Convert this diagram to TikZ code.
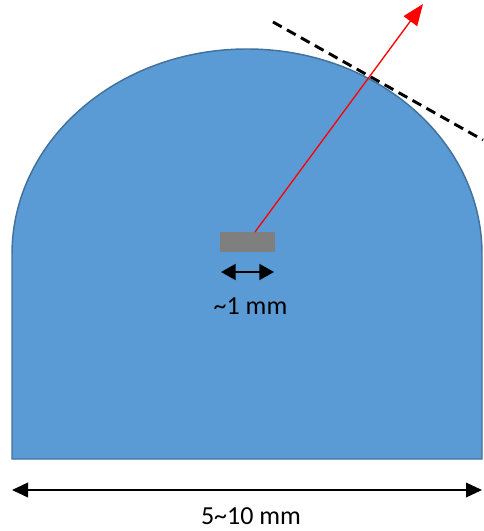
\documentclass[tikz,border=0pt]{standalone}
\usepackage{fontspec}
\setmainfont{Carlito}
\usetikzlibrary{arrows.meta}
\definecolor{domefill}{HTML}{5B9BD5}
\definecolor{domeline}{HTML}{41719C}
\definecolor{chip}{HTML}{7F7F7F}
\begin{document}
\begin{tikzpicture}[x=0.75pt,y=-0.75pt,
  dome/.style={fill=domefill,draw=domeline,line width=1.1pt},
  ray/.style={draw=red,line width=1pt,-{Triangle[length=16pt,width=12.5pt]}},
  tangent/.style={draw=black,line width=2.2pt,dash pattern=on 7.5pt off 4.5pt},
  dimsmall/.style={draw=black,line width=1.4pt,{Triangle[length=11pt,width=12pt]}-{Triangle[length=11pt,width=12pt]}},
  dimbig/.style={draw=black,line width=1.1pt,{Triangle[length=12pt,width=11pt]}-{Triangle[length=12pt,width=11pt]}},
  label/.style={font=\fontsize{19.5}{23}\selectfont,inner sep=0pt,anchor=base}]
\useasboundingbox (0,0) rectangle (483,531);
% dome body
\path[dome] (12,459) -- (12,254) arc[start angle=180,end angle=0,x radius=235,y radius=-205] -- (482,459) -- cycle;
% chip
\node[fill=chip,draw=none,minimum width=41.25pt,minimum height=15pt,inner sep=0pt] (chip) at (247.5,242) {};
% tangent line
\coordinate (t1) at (273,22);
\coordinate (t2) at (483,140);
\draw[tangent] (t1) -- (t2);
% ray
\coordinate (rayend) at (423,4);
\draw[ray] (255,232) -- (rayend);
% small dimension
\coordinate (s1) at (221,272);
\coordinate (s2) at (274,272);
\draw[dimsmall] (s1) -- (s2);
\node[label] (small) at (250.5,314) {\textasciitilde 1 mm};
% big dimension
\coordinate (b1) at (12,490);
\coordinate (b2) at (482,490);
\draw[dimbig] (b1) -- (b2);
\node[label] (big) at (251,524) {5\textasciitilde 10 mm};
\end{tikzpicture}
\end{document}
